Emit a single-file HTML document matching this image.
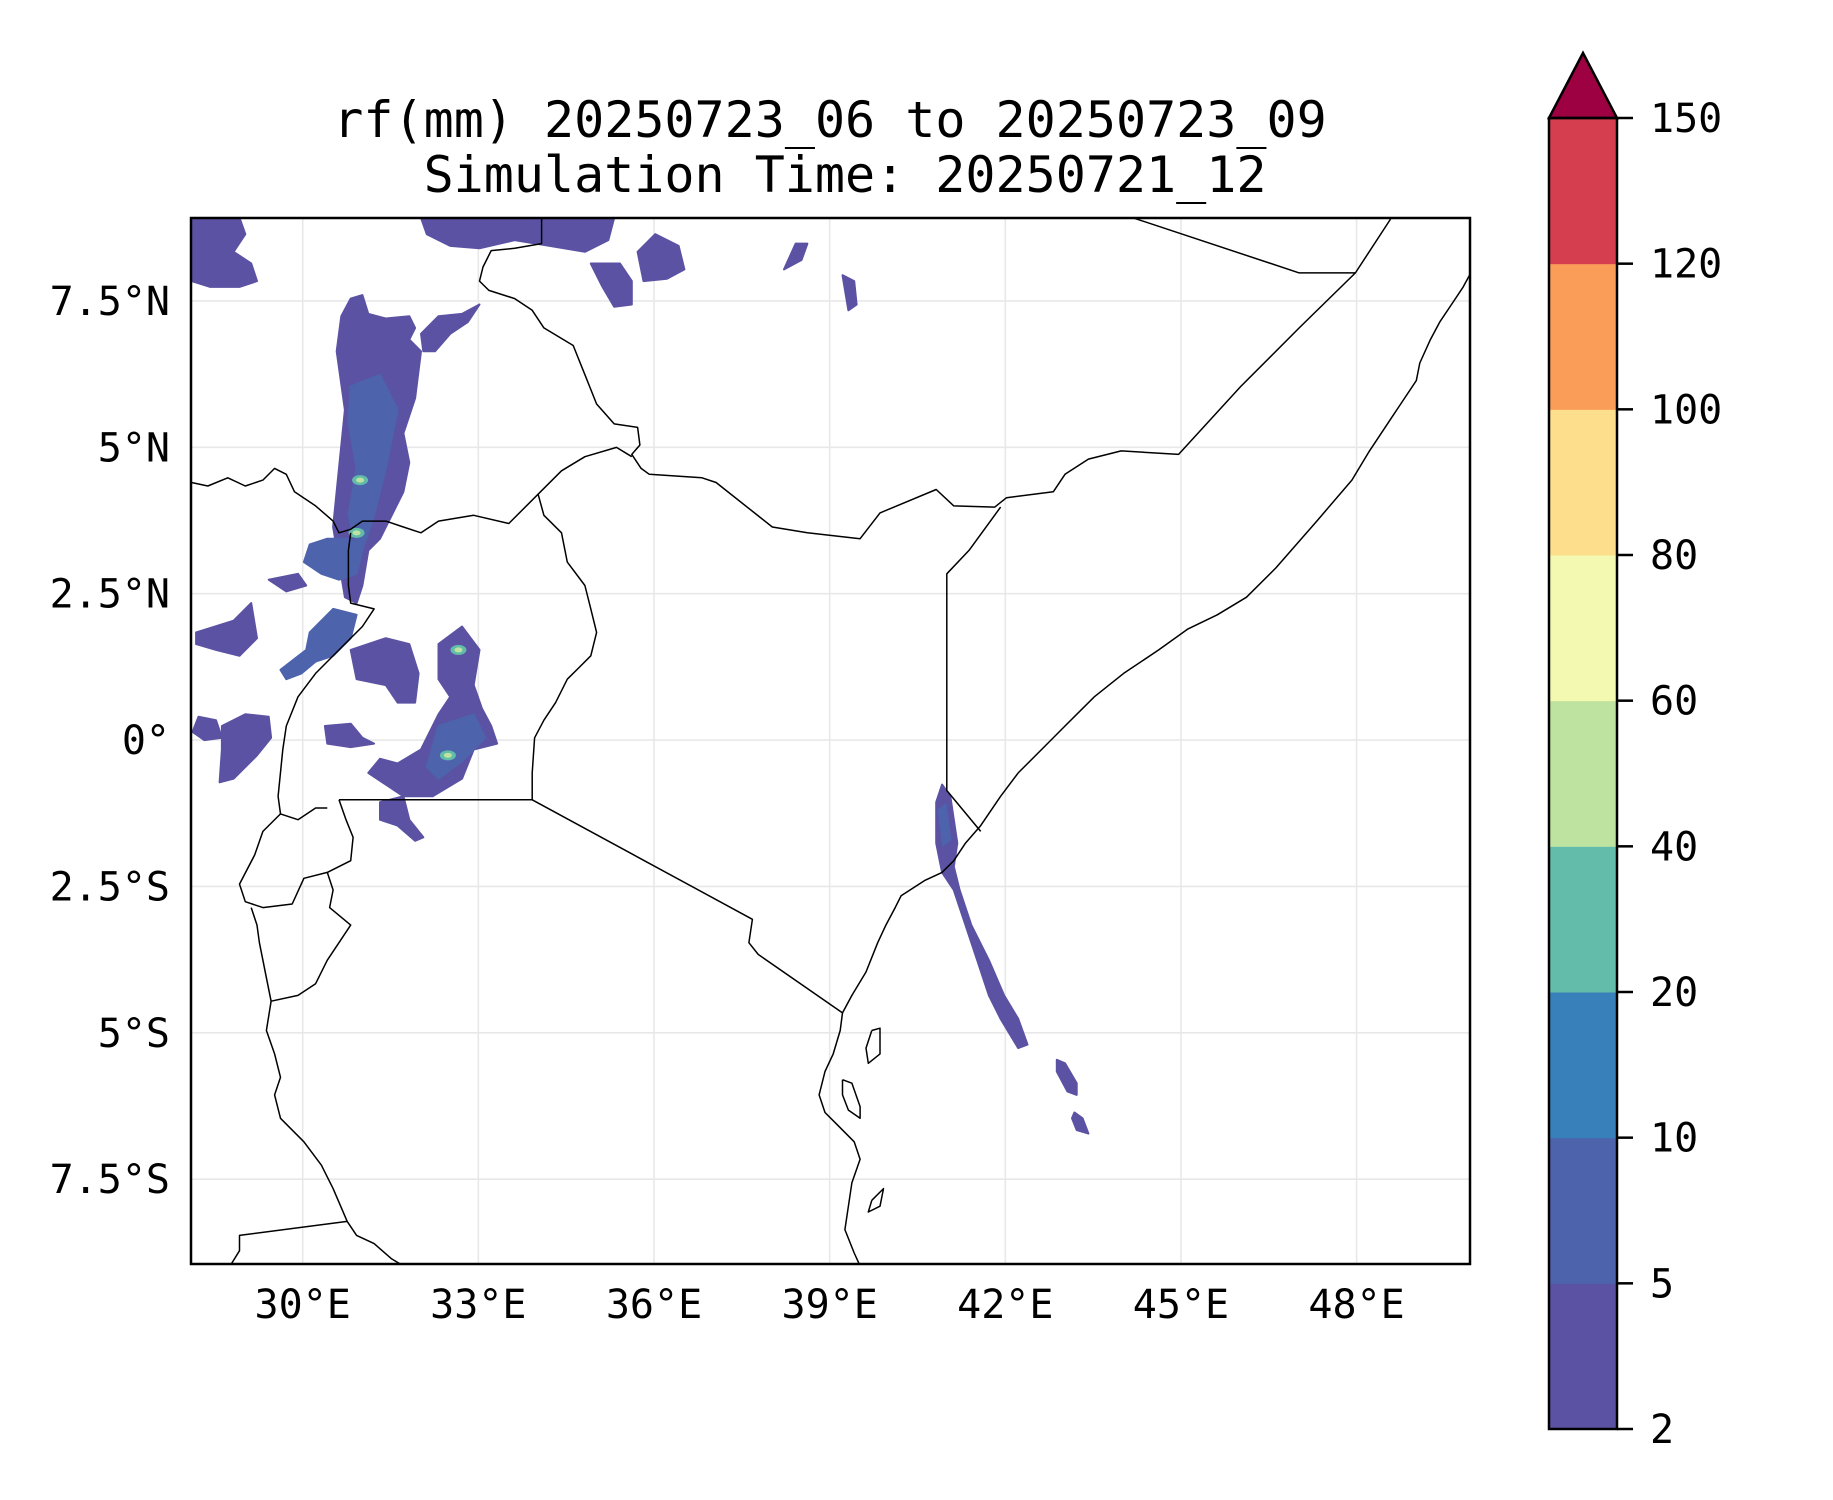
<!DOCTYPE html>
<html><head><meta charset="utf-8"><style>
html,body{margin:0;padding:0;background:#fff;}
svg{display:block;font-family:"DejaVu Sans Mono","Liberation Mono",monospace;}
</style></head><body>
<svg id="fig" width="1833" height="1500" viewBox="0 0 1833 1500" xmlns="http://www.w3.org/2000/svg">
<defs><clipPath id="axclip"><rect x="191" y="218" width="1279" height="1046"/></clipPath></defs>
<text x="830" y="137" font-size="50" text-anchor="middle">rf(mm) 20250723_06 to 20250723_09</text>
<text x="845" y="192" font-size="50" text-anchor="middle">Simulation Time: 20250721_12</text>
<g id="grid"></g>
<g id="rain" clip-path="url(#axclip)"></g>
<g id="borders" clip-path="url(#axclip)"></g>
<rect x="191" y="218" width="1279" height="1046" fill="none" stroke="#000" stroke-width="2.5"/>
<g id="xlabels"></g>
<g id="ylabels"></g>
<g id="cbar"></g>
</svg>
<script>
// ---- data ----
const lonTicks=[30,33,36,39,42,45,48];
const lonLabels=["30°E","33°E","36°E","39°E","42°E","45°E","48°E"];
const latTicks=[7.5,5,2.5,0,-2.5,-5,-7.5];
const latLabels=["7.5°N","5°N","2.5°N","0°","2.5°S","5°S","7.5°S"];
const cbarLevels=[2,5,10,20,40,60,80,100,120,150];
const cbarColors=["#5b52a3","#4d63ac","#3880b9","#62bca9","#bee3a0","#f3f9b0","#fcde8c","#f99d59","#d53e4f"];
const cbarExtendColor="#9e0142";

const borderLines=[
[34.08,8.92,34.08,8.48,33.62,8.40,33.22,8.36,33.08,8.08,33.02,7.84,33.18,7.68,33.62,7.54,33.92,7.34,34.12,7.04,34.62,6.74,34.82,6.24,35.02,5.74,35.32,5.40,35.72,5.34,35.76,5.04,35.62,4.88,35.78,4.64,35.92,4.54,36.82,4.48,37.06,4.40,38.02,3.64,38.62,3.54,39.52,3.44,39.86,3.88,40.82,4.28,41.12,4.00,41.82,3.98,42.02,4.14,42.82,4.24,43.02,4.54,43.42,4.80,43.98,4.94,44.96,4.88,46.02,6.04,47.02,7.04,47.98,7.98,48.58,8.90],
[44.18,8.92,47.02,7.98,47.98,7.98],
[28.10,4.40,28.38,4.34,28.72,4.48,29.02,4.34,29.32,4.44,29.52,4.64,29.72,4.54,29.86,4.24,30.22,4.00,30.52,3.74,30.62,3.54,30.82,3.60,31.02,3.74,31.42,3.74,31.72,3.64,32.02,3.54,32.32,3.74,32.92,3.84,33.52,3.70,34.02,4.20,34.42,4.60,34.82,4.84,35.36,5.00,35.62,4.84],
[34.02,4.20,34.12,3.84,34.42,3.54,34.52,3.04,34.82,2.64,34.92,2.24,35.02,1.84,34.92,1.44,34.72,1.24,34.52,1.04,34.32,0.64,34.12,0.34,33.96,0.04,33.92,-0.56,33.92,-1.02,37.68,-3.06,37.62,-3.46,37.78,-3.66,39.22,-4.66],
[30.62,-1.02,33.92,-1.02],
[30.82,3.54,30.78,3.24,30.78,2.64,30.82,2.34,31.22,2.24,31.02,1.94,30.62,1.54,30.22,1.14,29.92,0.74,29.72,0.24,29.66,-0.16,29.58,-0.96,29.62,-1.26],
[30.42,-1.16,30.22,-1.16,29.92,-1.36,29.62,-1.26,29.32,-1.56,29.18,-1.96,28.92,-2.46,29.02,-2.76,29.32,-2.86,29.82,-2.80,30.02,-2.36,30.42,-2.26,30.82,-2.06,30.86,-1.66,30.74,-1.36,30.62,-1.02],
[30.42,-2.26,30.52,-2.56,30.46,-2.86,30.82,-3.16,30.42,-3.76,30.22,-4.16,29.92,-4.36,29.46,-4.46,29.38,-4.06,29.26,-3.46,29.22,-3.16,29.12,-2.86],
[29.46,-4.46,29.38,-4.96,29.52,-5.36,29.62,-5.76,29.52,-6.06,29.62,-6.46,30.02,-6.86,30.32,-7.26,30.52,-7.66,30.76,-8.22,30.92,-8.46,31.22,-8.60,31.52,-8.86,31.72,-8.98],
[28.76,-8.98,28.92,-8.72,28.92,-8.46,30.76,-8.22],
[39.22,-4.66,39.38,-4.36,39.62,-3.96,39.82,-3.46,39.96,-3.16,40.12,-2.86,40.22,-2.66,40.62,-2.40,40.92,-2.26,41.12,-2.06,41.32,-1.76,41.58,-1.46,41.92,-0.96,42.22,-0.56,42.62,-0.16,43.02,0.24,43.52,0.74,44.02,1.14,44.62,1.54,45.12,1.90,45.62,2.14,46.12,2.44,46.62,2.94,47.32,3.74,47.92,4.44,48.22,4.94,48.62,5.54,49.02,6.14,49.08,6.44,49.26,6.84,49.42,7.14,49.62,7.44,49.82,7.74,49.96,8.00],
[39.22,-4.66,39.18,-4.96,39.06,-5.36,38.92,-5.66,38.82,-6.06,38.92,-6.36,39.12,-6.56,39.42,-6.86,39.52,-7.16,39.38,-7.56,39.32,-7.96,39.26,-8.36,39.42,-8.76,39.52,-8.98],
[39.72,-4.96,39.86,-4.92,39.86,-5.36,39.66,-5.52,39.62,-5.26,39.72,-4.96],
[39.22,-5.80,39.38,-5.86,39.52,-6.26,39.52,-6.46,39.32,-6.32,39.22,-6.06,39.22,-5.80],
[39.72,-7.86,39.92,-7.66,39.86,-7.96,39.66,-8.06,39.72,-7.86],
[41.58,-1.56,41.00,-0.86,41.00,2.84,41.38,3.24,41.92,3.98]
];

// rainfall regions: level index into cbarColors, then lon/lat ring
const rainLevel=[0,0,0,0,0,0,0,1,0,1,0,0,1,0,0,0,1,0,0,0,0,1,0,0];
const rainRings=[
[28.10,8.92,28.92,8.92,29.02,8.64,28.82,8.34,29.12,8.14,29.22,7.84,28.92,7.74,28.42,7.74,28.10,7.84],
[32.02,8.92,35.32,8.92,35.22,8.54,34.82,8.34,34.22,8.44,33.62,8.54,33.02,8.40,32.52,8.44,32.12,8.64],
[34.92,8.14,35.42,8.14,35.62,7.84,35.62,7.44,35.32,7.40,35.12,7.74],
[35.72,8.34,36.02,8.64,36.42,8.44,36.52,8.04,36.22,7.88,35.82,7.84],
[38.22,8.04,38.42,8.48,38.62,8.48,38.52,8.20],
[39.22,7.94,39.42,7.84,39.46,7.44,39.32,7.34],
[30.82,7.54,31.02,7.60,31.12,7.28,31.42,7.20,31.82,7.24,31.92,7.04,31.82,6.84,32.02,6.64,31.92,5.84,31.72,5.24,31.82,4.74,31.72,4.24,31.52,3.84,31.32,3.44,31.12,3.24,31.02,2.64,30.92,2.34,30.72,2.44,30.62,3.04,30.52,3.64,30.62,4.64,30.72,5.64,30.58,6.64,30.66,7.24],
[30.82,6.04,31.32,6.24,31.62,5.64,31.42,4.64,31.22,3.84,30.98,3.14,30.78,3.84,30.92,4.64,30.78,5.44],
[32.02,6.94,32.32,7.24,32.72,7.28,33.02,7.44,32.82,7.14,32.52,6.94,32.26,6.64,32.06,6.64],
[30.12,3.34,30.42,3.44,30.82,3.44,31.02,3.24,30.92,2.84,30.62,2.74,30.32,2.84,30.02,3.04],
[29.42,2.74,29.92,2.84,30.06,2.64,29.72,2.54],
[28.18,1.84,28.82,2.04,29.12,2.34,29.22,1.74,28.92,1.44,28.52,1.54,28.18,1.64],
[30.12,1.84,30.52,2.24,30.92,2.14,30.82,1.74,30.52,1.44,30.22,1.34,29.98,1.14,29.72,1.04,29.62,1.20,30.06,1.54],
[30.82,1.54,31.42,1.74,31.82,1.64,31.98,1.14,31.92,0.64,31.62,0.64,31.42,0.94,30.92,1.04],
[32.32,1.64,32.72,1.94,33.02,1.54,32.92,0.94,33.06,0.54,33.22,0.24,33.32,-0.06,32.92,-0.16,32.72,-0.66,32.22,-0.96,31.72,-0.96,31.42,-0.76,31.12,-0.56,31.32,-0.32,31.62,-0.40,32.02,-0.16,32.32,0.44,32.52,0.74,32.32,1.04],
[31.32,-1.06,31.72,-0.96,31.82,-1.36,32.06,-1.66,31.92,-1.72,31.62,-1.46,31.32,-1.36],
[32.32,0.24,32.92,0.44,33.12,0.04,32.72,-0.36,32.32,-0.66,32.12,-0.46],
[30.38,0.24,30.82,0.28,31.02,0.04,31.22,-0.06,30.82,-0.12,30.42,-0.06],
[28.22,0.40,28.52,0.34,28.62,0.04,28.32,0.00,28.12,0.14],
[28.62,0.24,29.02,0.44,29.42,0.40,29.46,0.04,29.22,-0.26,28.82,-0.66,28.58,-0.72,28.62,-0.16],
[40.82,-1.06,40.92,-0.76,41.06,-0.96,41.18,-1.76,41.12,-2.16,41.22,-2.56,41.42,-3.16,41.72,-3.76,41.98,-4.36,42.22,-4.76,42.38,-5.20,42.22,-5.26,41.92,-4.76,41.72,-4.36,41.52,-3.76,41.32,-3.16,41.12,-2.56,40.92,-2.26,40.82,-1.76],
[40.86,-1.2,40.98,-1.1,41.06,-1.7,40.94,-1.8],
[42.88,-5.46,43.02,-5.52,43.22,-5.86,43.22,-6.06,43.06,-6.00,42.88,-5.66],
[43.18,-6.36,43.32,-6.46,43.42,-6.72,43.22,-6.66,43.14,-6.46]
];
const hotLon=[30.98,30.92,32.66,32.48];
const hotLat=[4.44,3.54,1.54,-0.26];

// ---- axis functions ----
const AX={x0:191,x1:1470,y0:218,y1:1264};
function xs(lon){return 302.7+(lon-30)*58.55;}
function ys(lat){return 740.1-lat*58.55;}
const CB={x:1549,w:68,top:118,bot:1429};
function cy(i){return CB.bot-(CB.bot-CB.top)*i/(cbarLevels.length-1);}
const NS="http://www.w3.org/2000/svg";
function mk(tag,attrs,parent){const e=document.createElementNS(NS,tag);for(const k in attrs)e.setAttribute(k,attrs[k]);parent.appendChild(e);return e;}
function ptsOf(a){let s=[];for(let i=0;i<a.length;i+=2)s.push(xs(a[i]).toFixed(1)+","+ys(a[i+1]).toFixed(1));return s.join(" ");}

// gridlines
const grid=document.getElementById('grid');
lonTicks.forEach(v=>{const l=mk('line',{x1:xs(v),x2:xs(v),y1:AX.y0,y2:AX.y1,stroke:'#e8e8e8','stroke-width':1.6},grid);

});
latTicks.forEach(v=>{const l=mk('line',{x1:AX.x0,x2:AX.x1,y1:ys(v),y2:ys(v),stroke:'#e8e8e8','stroke-width':1.6},grid);

});

// rain
const rain=document.getElementById('rain');
rainRings.forEach((r,i)=>{const p=mk('polygon',{points:ptsOf(r),fill:cbarColors[rainLevel[i]],'stroke':cbarColors[rainLevel[i]],'stroke-width':2,'stroke-linejoin':'round'},rain);

});
hotLon.forEach((v,i)=>{const c=mk('ellipse',{cx:xs(v),cy:ys(hotLat[i]),rx:8,ry:5,fill:cbarColors[3]},rain);


const c2=mk('ellipse',{cx:xs(v),cy:ys(hotLat[i]),rx:4,ry:2.5,fill:cbarColors[4]},rain);

});

// borders
const bd=document.getElementById('borders');
borderLines.forEach(b=>{const p=mk('polyline',{points:ptsOf(b),fill:'none',stroke:'#000','stroke-width':1.5,'stroke-linejoin':'round'},bd);

});

// tick labels
const xl=document.getElementById('xlabels');
lonTicks.forEach((v,i)=>{const t=mk('text',{x:xs(v),y:1318,'font-size':40,'text-anchor':'middle'},xl);t.textContent=lonLabels[i];

});
const yl=document.getElementById('ylabels');
latTicks.forEach((v,i)=>{const t=mk('text',{x:170,y:ys(v)+14,'font-size':40,'text-anchor':'end'},yl);t.textContent=latLabels[i];

});

// colorbar
const cb=document.getElementById('cbar');
cbarColors.forEach((c,i)=>{const r=mk('rect',{x:CB.x,y:cy(i+1),width:CB.w,height:cy(i)-cy(i+1)+0.5,fill:c},cb);

});
const tri=mk('polygon',{points:`${CB.x},${CB.top} ${CB.x+CB.w/2},53 ${CB.x+CB.w},${CB.top}`,fill:cbarExtendColor,stroke:'#000','stroke-width':2.5,'stroke-linejoin':'miter'},cb);


const fr=mk('rect',{x:CB.x,y:CB.top,width:CB.w,height:CB.bot-CB.top,fill:'none',stroke:'#000','stroke-width':2.5},cb);


cbarLevels.forEach((v,i)=>{const l=mk('line',{x1:CB.x+CB.w,x2:CB.x+CB.w+16,y1:cy(i),y2:cy(i),stroke:'#000','stroke-width':2.5},cb);


const t=mk('text',{x:1650,y:cy(i)+14,'font-size':40},cb);t.textContent=String(v);

});
</script>
</body></html>
